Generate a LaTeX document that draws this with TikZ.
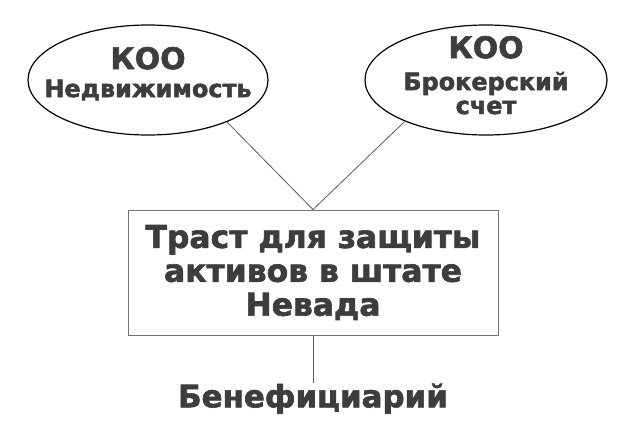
\documentclass[tikz,border=0pt]{standalone}
\usepackage{fontspec}
\setmainfont{DejaVu Sans}[BoldFeatures={FakeBold=2}]
\usetikzlibrary{positioning, shapes.geometric}
\definecolor{inkgray}{rgb}{0.24,0.24,0.24}
\tikzset{
  align=center,
  koo/.style={draw=black, line width=1.2bp, ellipse, inner sep=-40bp, minimum width=240bp, minimum height=110bp, text=inkgray, font=\bfseries\fontsize{24}{24}\selectfont},
  trustbox/.style={draw=black!55, line width=0.9bp, rectangle, inner sep=0pt, minimum width=370bp, minimum height=125bp, text=inkgray, font=\bfseries\fontsize{31.5}{34}\selectfont},
  benef/.style={inner sep=0pt, text=inkgray, font=\bfseries\fontsize{31}{32}\selectfont},
  link/.style={draw=black!65, line width=0.8bp}
}
\newcommand{\kootitle}{{\fontsize{30}{30}\selectfont КОО}}

\begin{document}
\begin{tikzpicture}[x=1bp, y=1bp]
  \useasboundingbox (0,0) rectangle (630,-427);

  \node[koo, text depth=16bp] (realty) at (148,-80) {\kootitle\\[4bp] Недвижимость};
  \node[koo, minimum width=242bp, text depth=10bp] (broker) at (486,-80) {\kootitle\\[8bp] Брокерский\\ счет};
  \node[trustbox] (trust) at (313,-272.5) {Траст для защиты\\ активов в штате\\ Невада};
  \node[benef, below=48bp of trust] (benefit) {Бенефициарий};

  \draw[link] (trust.north) -- (realty.-28);
  \draw[link] (trust.north) -- (broker.-153);
  \draw[link] (trust.south) -- (benefit.north);

\end{tikzpicture}
\end{document}
